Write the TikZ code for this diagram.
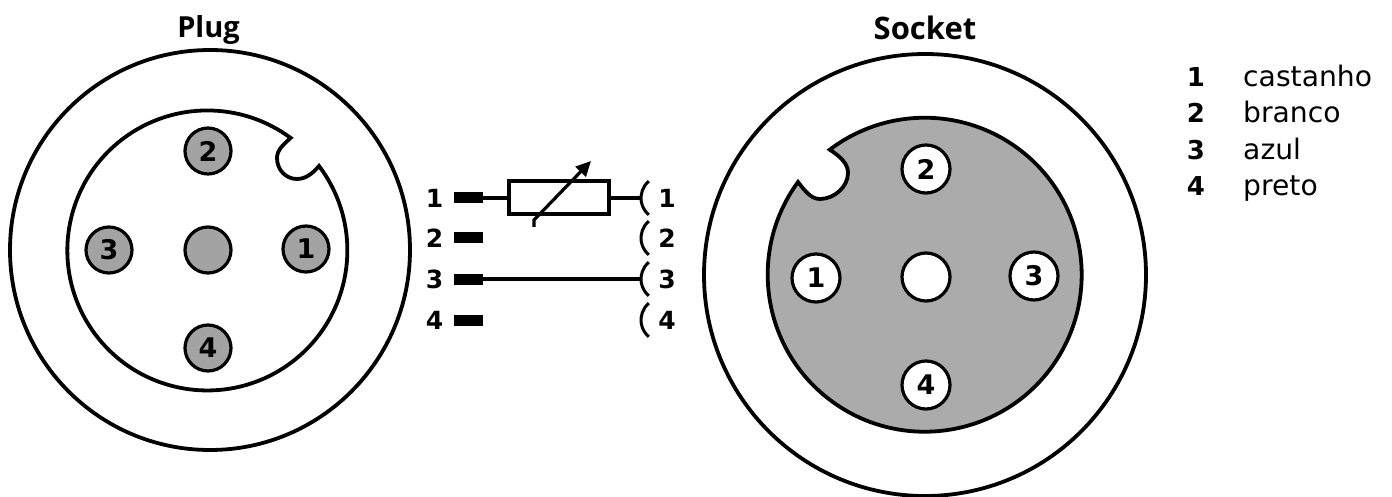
\documentclass[tikz,border=0pt]{standalone}
\usepackage{fontspec}
\setmainfont{DejaVu Sans}
\newfontfamily\titlefont[Scale=1]{Open Sans}
\usetikzlibrary{arrows.meta}
\newcommand{\fsz}[1]{\fontsize{#1}{#1}\selectfont}
\definecolor{plugpin}{HTML}{A3A3A3}
\definecolor{sockfill}{HTML}{ABABAB}
\tikzset{
  x=1pt,y=1pt,
  ring/.style={circle,draw=black,line width=3.8pt,minimum size=#1,inner sep=0pt},
  plugpinstyle/.style={circle,draw=black,line width=3.2pt,fill=plugpin,minimum size=46pt,inner sep=0pt,font=\bfseries\fsz{27}},
  sockpinstyle/.style={circle,draw=black,line width=3.2pt,fill=white,minimum size=48pt,inner sep=0pt,font=\bfseries\fsz{27}},
  title/.style={font=\titlefont\bfseries\fsz{#1},anchor=base},
  wnum/.style={font=\bfseries\fsz{25},inner sep=0pt},
  bar/.style={fill=black,minimum width=29pt,minimum height=11pt,inner sep=0pt},
  wire/.style={line width=3.2pt},
  legnum/.style={font=\bfseries\fsz{26},anchor=base,inner sep=0pt},
  legtxt/.style={font=\fsz{28.2},anchor=base west,inner sep=0pt},
}
\begin{document}
\begin{tikzpicture}
\useasboundingbox (0,0) rectangle (1392,496);
% Plug
\node[title=29] (tplug) at (208.5,458) {Plug};
\node[ring=400pt] (plugouter) at (210,246) {};
\draw[line width=3.8pt,line join=miter] (319,330) arc[start angle=37.1,end angle=-306.5,radius=140]
  .. controls (283,351) and (277,346) .. (277,338)
  .. controls (277,326) and (286,317) .. (297,317)
  .. controls (306,317) and (313,323) .. (319,330) -- cycle;
\node[plugpinstyle] (pp2) at (208,345) {2};
\node[plugpinstyle] (pp3) at (109,246) {3};
\node[plugpinstyle] (pp0) at (208,246) {};
\node[plugpinstyle] (pp1) at (306,247) {1};
\node[plugpinstyle] (pp4) at (208,148) {4};
% Socket
\node[title=31] (tsock) at (925,456) {Socket};
\node[ring=442pt] (sockouter) at (925,221) {};
\draw[line width=3.8pt,fill=sockfill,line join=miter] (798,314) arc[start angle=143.8,end angle=487.2,radius=157]
  .. controls (841,339) and (848,332) .. (848,323)
  .. controls (848,309) and (834,297) .. (820,297)
  .. controls (811,297) and (805,305) .. (798,314) -- cycle;
\node[sockpinstyle] (sp2) at (926,327) {2};
\node[sockpinstyle] (sp1) at (816,218) {1};
\node[sockpinstyle] (sp0) at (926,219) {};
\node[sockpinstyle] (sp3) at (1034,220) {3};
\node[sockpinstyle] (sp4) at (926,111) {4};
% Wiring, plug side
\node[bar] (b1) at (468.5,298) {};
\node[bar] (b2) at (468.5,258) {};
\node[bar] (b3) at (468.5,217) {};
\node[bar] (b4) at (468.5,176) {};
\node[wnum] (n1) at (434.5,298) {1};
\node[wnum] (n2) at (434.5,258) {2};
\node[wnum] (n3) at (434.5,217) {3};
\node[wnum] (n4) at (434.5,176) {4};
% Wiring, socket side
\coordinate (c1) at (641,298);
\coordinate (c2) at (641,258);
\coordinate (c3) at (641,217);
\coordinate (c4) at (641,176);
\foreach \c in {c1,c2,c3,c4}{
  \draw[line width=3pt] ([shift={(22,0)}]\c) ++(130:22) arc[start angle=130,end angle=230,radius=22];
}
\node[wnum] (m1) at (667,298) {1};
\node[wnum] (m2) at (667,258) {2};
\node[wnum] (m3) at (667,217) {3};
\node[wnum] (m4) at (667,176) {4};
% Resistor
\node[draw=black,line width=3.2pt,minimum width=100pt,minimum height=33pt,inner sep=0pt] (res) at (559,298.5) {};
\draw[wire] (b1.east) -- (res.west |- b1.east);
\draw[wire] (res.east |- c1) -- (c1);
\draw[wire] (b3.east) -- (c3);
\coordinate (as) at (534,269);
\coordinate (ab) at (534,276);
\coordinate (ae) at (591,335);
\draw[wire,-{Triangle[length=15pt,width=14pt]}] (as) -- (ab) -- (ae);
% Legend
\node[legnum] (l1) at (1196,409) {1};
\node[legnum] (l2) at (1196,373) {2};
\node[legnum] (l3) at (1196,336) {3};
\node[legnum] (l4) at (1196,300) {4};
\node[legtxt] (t1) at (1243,409) {castanho};
\node[legtxt] (t2) at (1243,373) {branco};
\node[legtxt] (t3) at (1243,336) {azul};
\node[legtxt] (t4) at (1243,300) {preto};
\end{tikzpicture}
\end{document}
